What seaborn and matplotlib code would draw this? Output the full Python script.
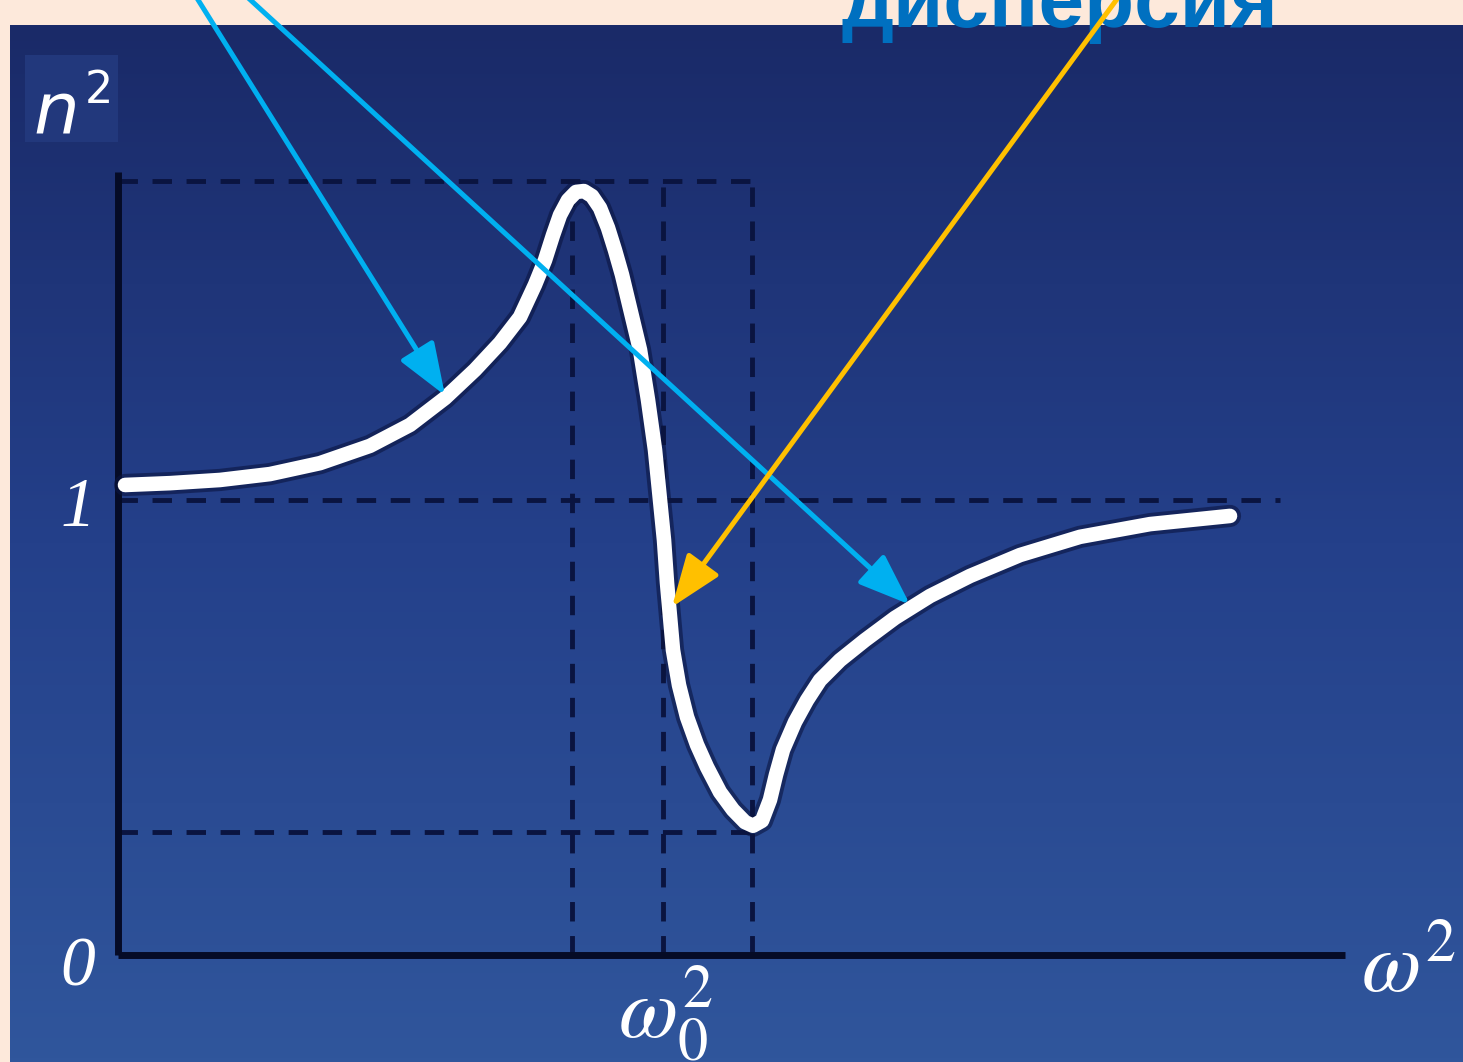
import numpy as np
import matplotlib
matplotlib.use("Agg")
import matplotlib.pyplot as plt
from matplotlib.patches import Rectangle
import seaborn as sns

# curve n^2(omega^2)
omega2 = [0.07, 0.52, 1.02, 1.52, 2.02, 2.52, 2.92, 3.27, 3.57, 3.82,
          4.02, 4.17, 4.27, 4.35, 4.42, 4.50, 4.58, 4.66, 4.74, 4.82,
          4.90, 4.97, 5.04, 5.10, 5.16, 5.22, 5.30, 5.37, 5.42, 5.46,
          5.49, 5.55, 5.61, 5.69, 5.79, 5.89, 6.02, 6.15, 6.27, 6.35,
          6.44, 6.52, 6.58, 6.65, 6.77, 6.89, 7.02, 7.22, 7.47, 7.77,
          8.12, 8.52, 9.02, 9.62, 10.32, 11.12]
n2 = [1.033, 1.037, 1.044, 1.057, 1.081, 1.119, 1.165, 1.224, 1.286, 1.345,
      1.402, 1.473, 1.527, 1.582, 1.626, 1.659, 1.677, 1.679, 1.668, 1.642,
      1.598, 1.549, 1.495, 1.440, 1.385, 1.330, 1.220, 1.110, 1.000, 0.912,
      0.818, 0.670, 0.593, 0.523, 0.462, 0.413, 0.358, 0.319, 0.292, 0.284,
      0.295, 0.341, 0.396, 0.451, 0.512, 0.560, 0.604, 0.648, 0.692, 0.741,
      0.789, 0.833, 0.879, 0.919, 0.947, 0.965]

# guide levels
n2_max = 1.70
n2_min = 0.27
x_peak = 4.54
x_res = 5.45
x_min = 6.34
x_axis_end = 12.27
x_one_end = 11.62

# arrows (start, end) in data units
cyan_arrows = [((0.77, 2.11), (3.27, 1.23)), ((1.27, 2.11), (7.92, 0.77))]
orange_arrow = ((10.02, 2.11), (5.54, 0.765))

plt.rcParams["mathtext.fontset"] = "stix"

fig = plt.figure(figsize=(14.63, 10.62), dpi=100, facecolor="#fde9db")
ax = fig.add_axes([0, 0, 1, 1])
ax.axis("off")

xlim = (-1.18, 13.45)
ylim = (-0.2352, 2.0989)

# blue panel with soft vertical gradient
grad = np.linspace(0, 1, 256)[:, None]
cmap = matplotlib.colors.LinearSegmentedColormap.from_list(
    "panel", ["#1a2a68", "#24408a", "#30569c"])
ax.imshow(grad, extent=(-1.08, 13.45, -0.235, 2.044), origin="upper",
          cmap=cmap, aspect="auto", zorder=0)
# lighter patch behind the n^2 label
ax.add_patch(Rectangle((-0.93, 1.787), 0.93, 0.19, fc="#22387c", ec="none", zorder=1))

dark = "#0a1440"
ls = (0, (4, 3))
ax.plot([0, x_min + 0.1], [n2_max, n2_max], color=dark, lw=3.5, ls=ls, zorder=1)
ax.plot([0, x_min], [n2_min, n2_min], color=dark, lw=3.5, ls=ls, zorder=1)
ax.plot([0, x_one_end], [1, 1], color=dark, lw=3.5, ls=ls, zorder=1)
for xv in [x_peak, x_res, x_min]:
    ax.plot([xv, xv], [0, n2_max], color=dark, lw=3.5, ls=ls, zorder=1)

# axes
ax.plot([0, 0], [0, n2_max + 0.02], color="#050b26", lw=5, zorder=2,
        solid_capstyle="butt")
ax.plot([0, x_axis_end], [0, 0], color="#050b26", lw=5, zorder=2,
        solid_capstyle="butt")

# curve with dark halo
sns.lineplot(x=omega2, y=n2, ax=ax, color="#0a1440", lw=16, alpha=0.6, zorder=3,
             solid_capstyle="round", solid_joinstyle="round")
sns.lineplot(x=omega2, y=n2, ax=ax, color="white", lw=10.5, zorder=4,
             solid_capstyle="round", solid_joinstyle="round")

# labels
ax.text(-0.62, 1.807, "n", color="white", fontsize=52, family="DejaVu Sans",
        style="italic", ha="center", va="baseline", zorder=5)
ax.text(-0.19, 1.873, "2", color="white", fontsize=32, family="DejaVu Sans",
        ha="center", va="baseline", zorder=5)
ax.text(-0.40, 0.98, "1", color="white", fontsize=50, family="Liberation Serif",
        style="italic", ha="center", va="center", zorder=5)
ax.text(-0.40, -0.03, "0", color="white", fontsize=50, family="Liberation Serif",
        style="italic", ha="center", va="center", zorder=5)
ax.text(12.9, -0.03, r"$\omega^2$", color="white", fontsize=62, ha="center",
        va="center", zorder=5)
ax.text(5.47, -0.13, r"$\omega_0^2$", color="white", fontsize=62, ha="center",
        va="center", zorder=5)

# arrows
astyle = "-|>,head_length=1.6,head_width=0.6"
for (x0, y0), (x1, y1) in cyan_arrows:
    ax.annotate("", xy=(x1, y1), xytext=(x0, y0), annotation_clip=False,
                arrowprops=dict(arrowstyle=astyle, color="#00b0f0", lw=3.6,
                                mutation_scale=20, shrinkA=0, shrinkB=0), zorder=6)
(x0, y0), (x1, y1) = orange_arrow
ax.annotate("", xy=(x1, y1), xytext=(x0, y0), annotation_clip=False,
            arrowprops=dict(arrowstyle=astyle, color="#ffc000", lw=3.6,
                            mutation_scale=20, shrinkA=0, shrinkB=0), zorder=6)

# cut-off title
ax.text(9.42, 2.0989 - 27 / 455, "дисперсия", color="#0070c0", fontsize=59,
        fontweight="bold", family=["Liberation Sans Narrow", "Liberation Sans"],
        ha="center", va="baseline", zorder=5)

ax.set_xlim(*xlim)
ax.set_ylim(*ylim)
fig.savefig("out.png", dpi=100, facecolor=fig.get_facecolor())
